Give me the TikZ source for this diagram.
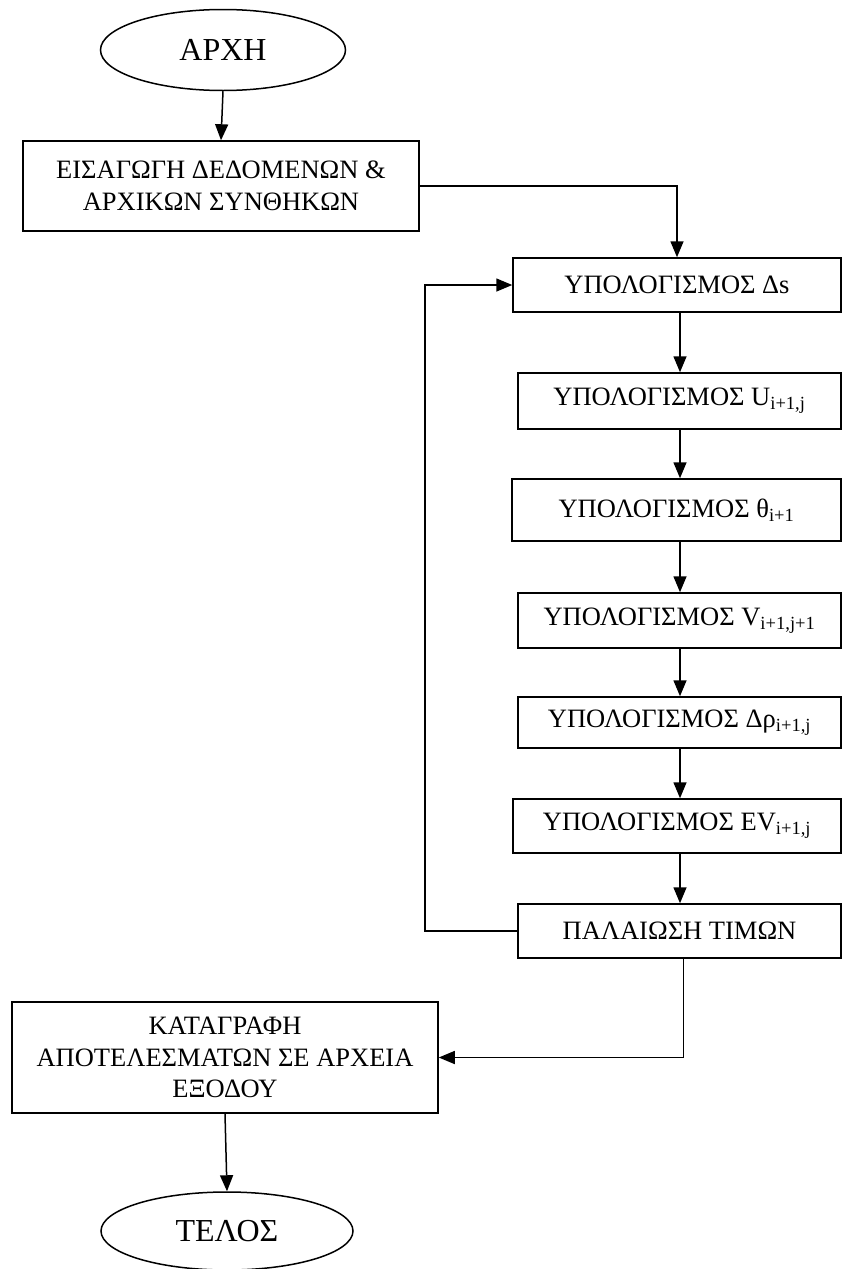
\documentclass[tikz,border=0pt]{standalone}
\usepackage{fontspec}
\setmainfont{Liberation Serif}
\usetikzlibrary{arrows.meta,calc,shapes.geometric,positioning}

\begin{document}
\begin{tikzpicture}[
  x=1pt, y=-1pt,
  terminal/.style={draw, ellipse, line width=1.5pt, inner sep=0pt, minimum width=245pt, minimum height=81pt, font=\fontsize{32}{36}\selectfont},
  box/.style={draw, line width=1.5pt, inner sep=0pt, align=center, font=\fontsize{26.5}{31.7}\selectfont},
  arrow/.style={-{Triangle[length=16pt,width=13pt]}, line width=1.5pt}
]
\useasboundingbox (0,0) rectangle (842,1269);

\node[terminal] (start) at (223,50) {ΑΡΧΗ};
\node[box, minimum width=396pt, minimum height=90pt] (input) at (221,186) {ΕΙΣΑΓΩΓΗ ΔΕΔΟΜΕΝΩΝ \&\\ΑΡΧΙΚΩΝ ΣΥΝΘΗΚΩΝ};

\node[box, minimum width=328pt, minimum height=54pt] (ds) at (677,285) {ΥΠΟΛΟΓΙΣΜΟΣ Δs};
\node[box, minimum width=323pt, minimum height=56pt] (uval) at (679.5,401) {ΥΠΟΛΟΓΙΣΜΟΣ U\textsubscript{i+1,j}};
\node[box, minimum width=329pt, minimum height=62pt] (theta) at (676.5,510) {ΥΠΟΛΟΓΙΣΜΟΣ θ\textsubscript{i+1}};
\node[box, minimum width=323pt, minimum height=55pt] (vval) at (679.5,620.5) {ΥΠΟΛΟΓΙΣΜΟΣ V\textsubscript{i+1,j+1}};
\node[box, minimum width=323pt, minimum height=51pt] (drho) at (679.5,722.5) {ΥΠΟΛΟΓΙΣΜΟΣ Δρ\textsubscript{i+1,j}};
\node[box, minimum width=328pt, minimum height=54pt] (ev) at (677,826) {ΥΠΟΛΟΓΙΣΜΟΣ ΕV\textsubscript{i+1,j}};
\node[box, minimum width=323pt, minimum height=54pt] (update) at (679.5,931) {ΠΑΛΑΙΩΣΗ ΤΙΜΩΝ};

\node[box, minimum width=426pt, minimum height=111pt] (output) at (225,1057.5) {ΚΑΤΑΓΡΑΦΗ\\ΑΠΟΤΕΛΕΣΜΑΤΩΝ ΣΕ ΑΡΧΕΙΑ\\ΕΞΟΔΟΥ};
\node[terminal, minimum width=252pt, minimum height=78pt] (stop) at (227,1231) {ΤΕΛΟΣ};

\coordinate (back) at (425,0);
\coordinate (spine) at (680,0);

\draw[arrow] (start.south) -- (input.north);
\draw[arrow] (input.east) -| (ds.north);
\foreach \a/\b in {ds/uval,uval/theta,theta/vval,vval/drho,drho/ev,ev/update}
  \draw[arrow] (\a.south -| spine) -- (\b.north -| spine);
\draw[arrow] (update.west) -- (update.west -| back) |- (ds.west);
\draw[arrow] ($(update.south)+(4,0)$) |- (output.east);
\draw[arrow] (output.south) -- (stop.north);
\end{tikzpicture}
\end{document}
